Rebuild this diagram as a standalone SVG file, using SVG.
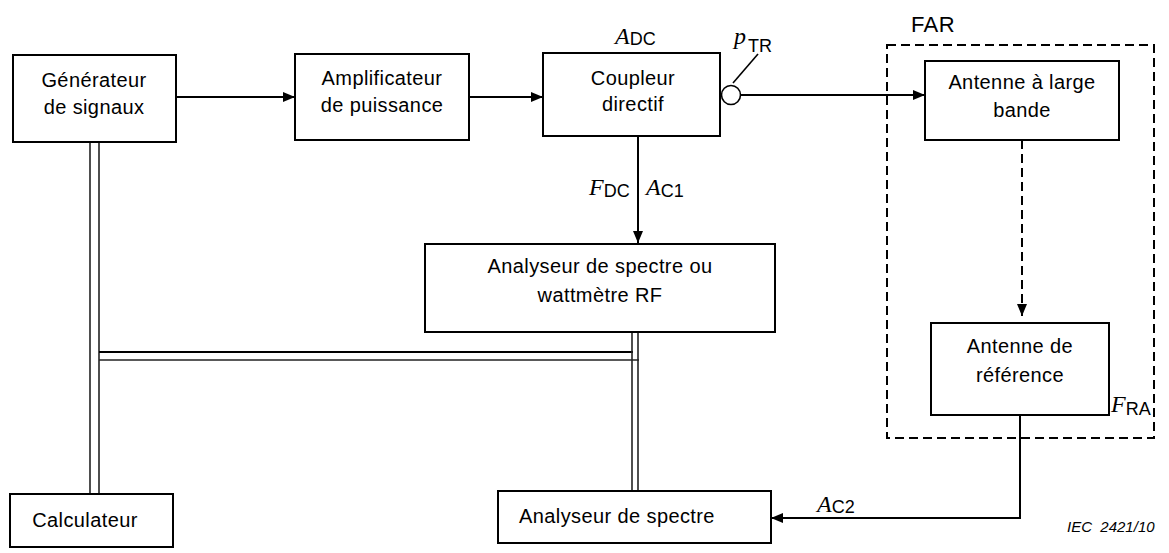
<svg xmlns="http://www.w3.org/2000/svg" width="1169" height="553" viewBox="0 0 1169 553">
<style>
.box{fill:#fff;stroke:#000;stroke-width:2}
.t{font-family:"Liberation Sans",Arial,sans-serif;font-size:20px;letter-spacing:0.4px;fill:#000}
.c{text-anchor:middle}
.ln{fill:none;stroke:#000;stroke-width:2}
.dl{fill:none;stroke:#222;stroke-width:1.6}
.it{font-family:"Liberation Serif","Times New Roman",serif;font-style:italic;font-size:24px;fill:#000}
.sub{font-family:"Liberation Sans",Arial,sans-serif;font-size:18px;fill:#000}
</style>
<defs>
<marker id="ah" viewBox="0 0 12 10" refX="12" refY="5" markerWidth="12" markerHeight="10" markerUnits="userSpaceOnUse" orient="auto">
<path d="M0,0 L12,5 L0,10 Z" fill="#000"/>
</marker>
</defs>
<rect width="1169" height="553" fill="#fff"/>

<g id="connectors">
<line class="ln" x1="176" y1="97" x2="295" y2="97" marker-end="url(#ah)"/>
<line class="ln" x1="469" y1="97" x2="543" y2="97" marker-end="url(#ah)"/>
<line class="ln" x1="741" y1="95" x2="925" y2="95" marker-end="url(#ah)"/>
<line class="ln" x1="638" y1="136" x2="638" y2="243" marker-end="url(#ah)"/>
<line class="ln" x1="1022" y1="140" x2="1022" y2="316" stroke-dasharray="9,5" marker-end="url(#ah)"/>
<polyline class="ln" points="1020,415 1020,518 771,518" marker-end="url(#ah)"/>
<line class="dl" x1="90" y1="142" x2="90" y2="494"/>
<line class="dl" x1="99" y1="142" x2="99" y2="494"/>
<line class="ln" x1="99" y1="352" x2="633" y2="352"/>
<line class="dl" x1="99" y1="360" x2="639" y2="360"/>
<line class="dl" x1="632" y1="332" x2="632" y2="491"/>
<line class="dl" x1="638" y1="332" x2="638" y2="491"/>
<circle cx="731" cy="95" r="9.5" fill="#fff" stroke="#000" stroke-width="1.6"/>
<line x1="733" y1="83" x2="758" y2="54" stroke="#000" stroke-width="1.6"/>
</g>

<g id="far">
<rect x="887" y="45" width="267" height="393" fill="none" stroke="#000" stroke-width="2" stroke-dasharray="9,5"/>
<text class="t" x="911" y="32" style="font-size:22px">FAR</text>
</g>

<g id="generateur">
<rect class="box" x="13" y="55" width="163" height="87"/>
<text class="t c" x="94" y="87">Générateur</text>
<text class="t c" x="94" y="114">de signaux</text>
</g>

<g id="amplificateur">
<rect class="box" x="295" y="54" width="174" height="86"/>
<text class="t c" x="382" y="85">Amplificateur</text>
<text class="t c" x="382" y="112">de puissance</text>
</g>

<g id="coupleur">
<rect class="box" x="543" y="53" width="177" height="83"/>
<text class="t c" x="633" y="85">Coupleur</text>
<text class="t c" x="633" y="111">directif</text>
<text x="615" y="44"><tspan class="it">A</tspan><tspan class="sub" dy="1">DC</tspan></text>
<text x="734" y="44"><tspan class="it">p</tspan><tspan class="sub" dx="2" dy="8">TR</tspan></text>
</g>

<g id="labels-dc">
<text x="589" y="195"><tspan class="it">F</tspan><tspan class="sub" dy="2">DC</tspan></text>
<text x="646" y="195"><tspan class="it">A</tspan><tspan class="sub" dy="2">C1</tspan></text>
</g>

<g id="analyseur-wattmetre">
<rect class="box" x="425" y="244" width="350" height="88"/>
<text class="t c" x="600" y="273">Analyseur de spectre ou</text>
<text class="t c" x="600" y="302">wattmètre RF</text>
</g>

<g id="antenne-large-bande">
<rect class="box" x="925" y="61" width="194" height="79"/>
<text class="t c" x="1022" y="89">Antenne à large</text>
<text class="t c" x="1022" y="117">bande</text>
</g>

<g id="antenne-reference">
<rect class="box" x="931" y="323" width="178" height="92"/>
<text class="t c" x="1020" y="353">Antenne de</text>
<text class="t c" x="1020" y="382">référence</text>
<text x="1111" y="412"><tspan class="it">F</tspan><tspan class="sub" dy="3">RA</tspan></text>
</g>

<g id="calculateur">
<rect class="box" x="10" y="494" width="163" height="53"/>
<text class="t c" x="85" y="527">Calculateur</text>
</g>

<g id="analyseur-spectre">
<rect class="box" x="498" y="491" width="273" height="52"/>
<text class="t" x="519" y="523">Analyseur de spectre</text>
</g>

<g id="label-ac2">
<text x="817" y="512"><tspan class="it">A</tspan><tspan class="sub" dy="1">C2</tspan></text>
</g>

<text x="1067" y="532" style="font-family:'Liberation Sans',Arial,sans-serif;font-style:italic;font-size:15px;fill:#000" xml:space="preserve">IEC  2421/10</text>
</svg>
